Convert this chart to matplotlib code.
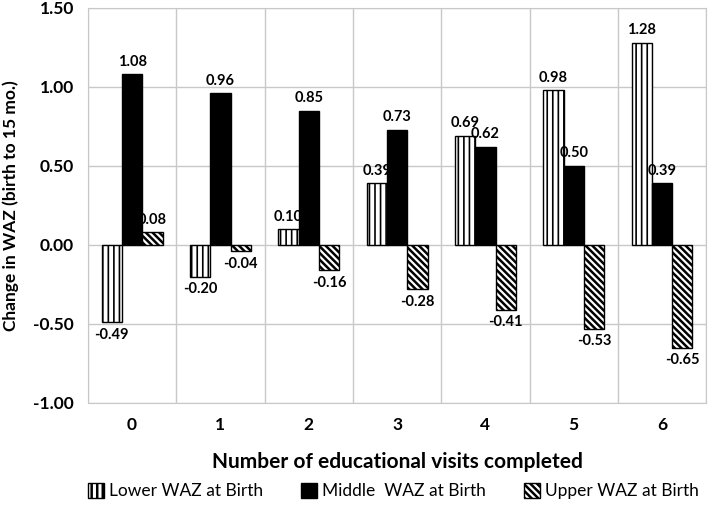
import matplotlib as mpl
mpl.use('Agg')
import matplotlib.pyplot as plt
import numpy as np

visits = ['0', '1', '2', '3', '4', '5', '6']
lower_waz = [-0.49, -0.20, 0.10, 0.39, 0.69, 0.98, 1.28]
middle_waz = [1.08, 0.96, 0.85, 0.73, 0.62, 0.50, 0.39]
upper_waz = [0.08, -0.04, -0.16, -0.28, -0.41, -0.53, -0.65]
yticks = [-1.0, -0.5, 0.0, 0.5, 1.0, 1.5]

plt.rcParams['font.family'] = ['Lato', 'DejaVu Sans']

fig = plt.figure(figsize=(7.09, 5.15), dpi=100)
ax = fig.add_axes([0.124, 0.2175, 0.872, 0.767])

x = np.arange(len(visits))
w = 0.23
series = [
    (lower_waz, 'Lower WAZ at Birth', '|||', 'white', 1.2),
    (middle_waz, 'Middle  WAZ at Birth', None, 'black', 1.0),
    (upper_waz, 'Upper WAZ at Birth', '\\' * 5, 'white', 1.8),
]
for i, (vals, lab, hatch, fc, hlw) in enumerate(series):
    plt.rcParams['hatch.linewidth'] = hlw
    bars = ax.bar(x + (i - 1) * w, vals, w, color=fc, edgecolor='black',
                  hatch=hatch, linewidth=1.0, label=lab, zorder=3)
    for b, v in zip(bars, vals):
        try:
            b.set_hatch_linewidth(hlw)
        except AttributeError:
            pass
        cx = b.get_x() + b.get_width() / 2
        if v >= 0:
            ax.annotate('%.2f' % v, (cx, v), xytext=(0, 4), textcoords='offset points',
                        ha='center', va='bottom', fontsize=10.5, fontweight='bold')
        else:
            ax.annotate('%.2f' % v, (cx, v), xytext=(0, -4), textcoords='offset points',
                        ha='center', va='top', fontsize=10.5, fontweight='bold')

ax.set_xlim(-0.5, 6.5)
ax.set_ylim(-1.0, 1.5)
ax.set_yticks(yticks)
ax.set_yticklabels(['%.2f' % t for t in yticks], fontsize=12.5, fontweight='bold')
ax.set_xticks(x)
ax.set_xticklabels(visits, fontsize=12.5, fontweight='bold')
ax.set_xticks(np.arange(-0.5, 7, 1), minor=True)
ax.tick_params(axis='both', which='both', length=0, pad=10)
ax.grid(axis='y', color='#c8c8c8', linewidth=1, zorder=0)
ax.grid(axis='x', which='minor', color='#c8c8c8', linewidth=1, zorder=0)
ax.grid(axis='x', which='major', visible=False)
for s in ax.spines.values():
    s.set_color('#c8c8c8')

ax.set_ylabel('Change in WAZ (birth to 15 mo.)', fontsize=12.5, fontweight='bold', labelpad=10)
ax.set_xlabel('Number of educational visits completed', fontsize=15, fontweight='bold', labelpad=14)

fig.legend(loc='lower center', bbox_to_anchor=(0.555, 0.0), ncol=3, frameon=False,
           fontsize=12.5, handlelength=0.9, handleheight=0.9, handletextpad=0.3,
           columnspacing=2.2)

fig.savefig('out.png', dpi=100)
